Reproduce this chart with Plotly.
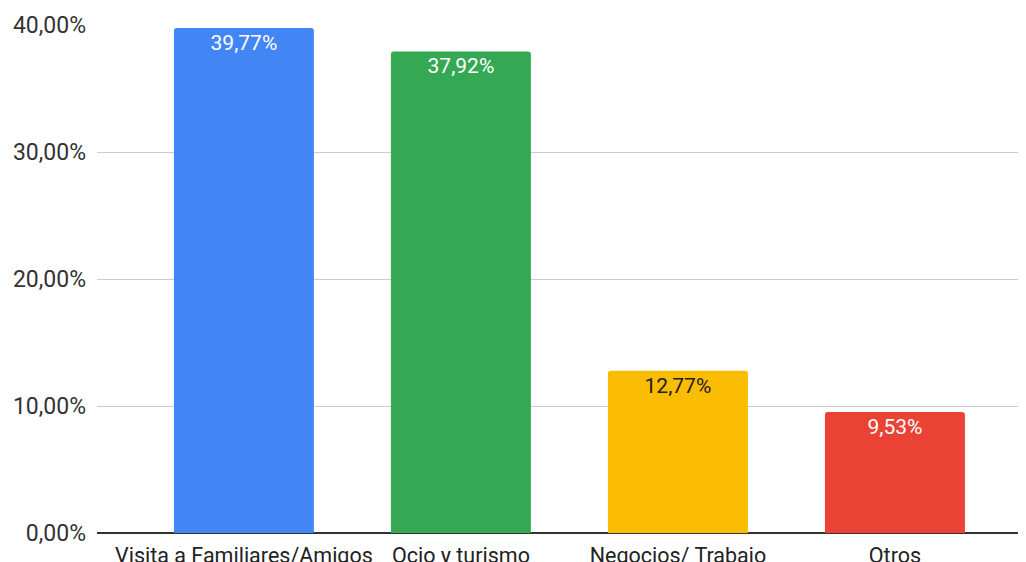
import plotly.graph_objects as go

categories = ["Visita a Familiares/Amigos", "Ocio y turismo", "Negocios/ Trabajo", "Otros"]
values = [39.77, 37.92, 12.77, 9.53]
bar_colors = ["#4285F4", "#34A853", "#FBBC04", "#EA4335"]
text_colors = ["#FFFFFF", "#FFFFFF", "#212121", "#FFFFFF"]
y_ticks = [0, 10, 20, 30, 40]
y_ticktext = ["0,00%", "10,00%", "20,00%", "30,00%", "40,00%"]

fig = go.Figure(go.Bar(
    x=list(range(len(categories))),
    y=values,
    width=0.645,
    marker=dict(color=bar_colors, cornerradius=3, line=dict(width=0)),
    texttemplate="%{y:.2f}%",
    textposition="inside",
    insidetextanchor="end",
    textangle=0,
    textfont=dict(family="Roboto", size=21, color=text_colors),
    cliponaxis=False,
))

# the page body adds an 8px offset, so margins are shifted by 8px
fig.update_layout(
    width=1026, height=562,
    margin=dict(l=89, r=8, t=17, b=37),
    separators=",.",
    paper_bgcolor="white", plot_bgcolor="white",
    font=dict(family="Roboto", size=21, color="#444444"),
    showlegend=False,
    xaxis=dict(
        range=[-0.677, 3.604],
        tickvals=list(range(len(categories))),
        ticktext=categories,
        showgrid=False, zeroline=False,
        showline=False, automargin=False,
        tickfont=dict(family="Roboto", size=21.5, color="#222222"),
        ticks="", ticklabelstandoff=7,
    ),
    yaxis=dict(
        range=[0, 40],
        tickvals=y_ticks,
        ticktext=y_ticktext,
        showgrid=True, gridcolor="#CCCCCC", gridwidth=1,
        zeroline=True, zerolinecolor="#333333", zerolinewidth=2,
        showline=False, automargin=False,
        tickfont=dict(family="Roboto", size=23, color="#333333"),
        ticks="", ticklabelstandoff=10,
    ),
)

fig.write_html("out.html")
